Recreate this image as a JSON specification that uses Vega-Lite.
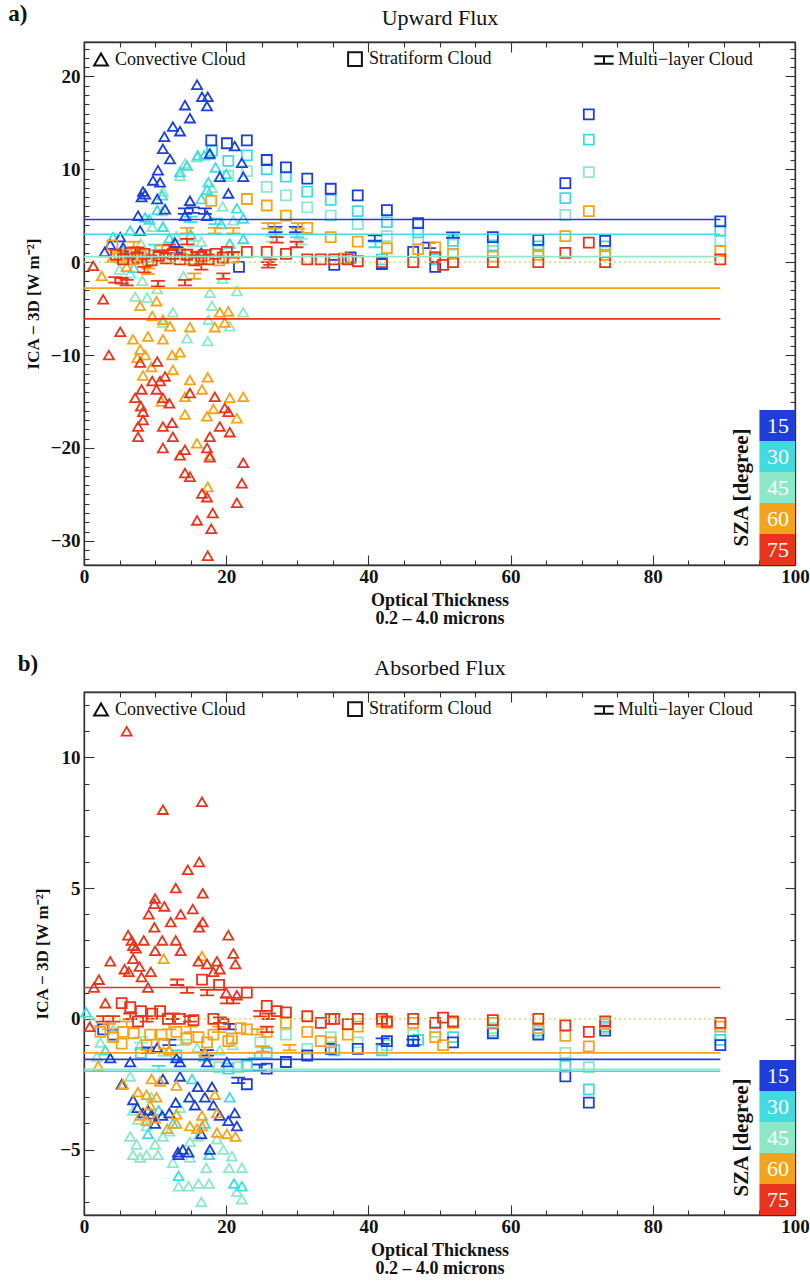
{
  "$schema": "https://vega.github.io/schema/vega-lite/v6.json",
  "background": "white",
  "padding": {"left": 7, "right": 2, "top": 2, "bottom": 2},
  "datasets": {
    "A": [
      {"s":"45","t":"C","x":14.2,"y":10.6},{"s":"45","t":"C","x":13.5,"y":9.3},{"s":"45","t":"C","x":15.9,"y":11.3},{"s":"45","t":"C","x":11.1,"y":7.6},{"s":"45","t":"C","x":11.0,"y":5.5},{"s":"45","t":"C","x":11.1,"y":3.8},{"s":"45","t":"C","x":9.6,"y":3.8},{"s":"45","t":"C","x":18.0,"y":8.0},{"s":"45","t":"C","x":19.5,"y":6.0},{"s":"45","t":"C","x":21.0,"y":4.5},{"s":"45","t":"C","x":8.0,"y":2.0},{"s":"45","t":"C","x":13.0,"y":2.8},{"s":"45","t":"C","x":16.5,"y":2.2},{"s":"45","t":"C","x":8.2,"y":-2.0},{"s":"45","t":"C","x":8.9,"y":-3.8},{"s":"45","t":"C","x":7.2,"y":-3.7},{"s":"45","t":"C","x":12.5,"y":-5.4},{"s":"45","t":"C","x":17.7,"y":-3.3},{"s":"45","t":"C","x":18.0,"y":-4.7},{"s":"45","t":"C","x":21.5,"y":-3.1},{"s":"45","t":"C","x":22.4,"y":-5.4},{"s":"45","t":"C","x":17.5,"y":-6.2},{"s":"45","t":"C","x":17.4,"y":-8.5},{"s":"45","t":"C","x":14.5,"y":-8.2},{"s":"45","t":"C","x":20.5,"y":-6.9},{"s":"45","t":"C","x":11.1,"y":-6.5},{"s":"45","t":"C","x":10.3,"y":-2.9},{"s":"45","t":"C","x":6.5,"y":-1.2},{"s":"45","t":"C","x":14.0,"y":-1.5},{"s":"45","t":"C","x":19.5,"y":-1.8},{"s":"45","t":"C","x":5.0,"y":-0.8},
      {"s":"45","t":"S","x":20.3,"y":9.3},{"s":"45","t":"S","x":25.7,"y":8.1},{"s":"45","t":"S","x":28.4,"y":7.2},{"s":"45","t":"S","x":31.4,"y":5.9},{"s":"45","t":"S","x":34.7,"y":5.0},{"s":"45","t":"S","x":38.5,"y":4.1},{"s":"45","t":"S","x":42.6,"y":2.8},{"s":"45","t":"S","x":47.0,"y":2.4},{"s":"45","t":"S","x":51.9,"y":1.9},{"s":"45","t":"S","x":57.5,"y":1.2},{"s":"45","t":"S","x":63.9,"y":1.2},{"s":"45","t":"S","x":67.7,"y":5.1},{"s":"45","t":"S","x":71.0,"y":9.7},{"s":"45","t":"S","x":73.3,"y":1.1},{"s":"45","t":"S","x":89.5,"y":2.3},{"s":"45","t":"S","x":22.9,"y":9.8},
      {"s":"45","t":"M","x":15.5,"y":2.0},{"s":"45","t":"M","x":26.5,"y":2.5},{"s":"45","t":"M","x":30.5,"y":2.2},
      {"s":"30","t":"C","x":16.0,"y":11.5},{"s":"30","t":"C","x":16.9,"y":11.5},{"s":"30","t":"C","x":17.6,"y":11.6},{"s":"30","t":"C","x":13.5,"y":9.7},{"s":"30","t":"C","x":14.5,"y":10.4},{"s":"30","t":"C","x":10.3,"y":5.6},{"s":"30","t":"C","x":11.0,"y":7.2},{"s":"30","t":"C","x":8.6,"y":4.8},{"s":"30","t":"C","x":9.2,"y":4.6},{"s":"30","t":"C","x":11.1,"y":3.8},{"s":"30","t":"C","x":22.4,"y":4.7},{"s":"30","t":"C","x":22.4,"y":2.5},{"s":"30","t":"C","x":21.5,"y":5.8},{"s":"30","t":"C","x":17.5,"y":8.6},{"s":"30","t":"C","x":17.3,"y":7.8},{"s":"30","t":"C","x":4.1,"y":2.7},{"s":"30","t":"C","x":6.5,"y":3.4},{"s":"30","t":"C","x":5.4,"y":1.3},{"s":"30","t":"C","x":12.0,"y":2.6},{"s":"30","t":"C","x":15.0,"y":3.0},{"s":"30","t":"C","x":19.3,"y":4.1},{"s":"30","t":"C","x":20.5,"y":2.0},{"s":"30","t":"C","x":9.0,"y":0.5},{"s":"30","t":"C","x":7.0,"y":-0.6},{"s":"30","t":"C","x":13.8,"y":1.2},{"s":"30","t":"C","x":18.5,"y":10.2},{"s":"30","t":"C","x":20.0,"y":9.5},{"s":"30","t":"C","x":16.5,"y":6.8},
      {"s":"30","t":"S","x":20.3,"y":10.9},{"s":"30","t":"S","x":22.9,"y":11.5},{"s":"30","t":"S","x":25.7,"y":10.0},{"s":"30","t":"S","x":28.4,"y":9.2},{"s":"30","t":"S","x":31.4,"y":7.6},{"s":"30","t":"S","x":34.7,"y":6.7},{"s":"30","t":"S","x":38.5,"y":5.5},{"s":"30","t":"S","x":42.6,"y":4.3},{"s":"30","t":"S","x":47.0,"y":3.2},{"s":"30","t":"S","x":51.9,"y":2.3},{"s":"30","t":"S","x":57.5,"y":1.8},{"s":"30","t":"S","x":63.9,"y":1.7},{"s":"30","t":"S","x":67.7,"y":6.9},{"s":"30","t":"S","x":71.0,"y":13.2},{"s":"30","t":"S","x":73.3,"y":1.7},{"s":"30","t":"S","x":89.5,"y":3.4},{"s":"30","t":"S","x":18.0,"y":12.0},{"s":"30","t":"S","x":41.9,"y":0.3},{"s":"30","t":"S","x":49.4,"y":0.3},
      {"s":"30","t":"M","x":15.0,"y":4.6},{"s":"30","t":"M","x":18.5,"y":4.4},{"s":"30","t":"M","x":27.0,"y":3.0},{"s":"30","t":"M","x":30.0,"y":3.0},{"s":"30","t":"M","x":41.0,"y":1.9},{"s":"30","t":"M","x":10.0,"y":1.6},
      {"s":"15","t":"C","x":15.9,"y":19.1},{"s":"15","t":"C","x":16.6,"y":17.8},{"s":"15","t":"C","x":17.4,"y":17.8},{"s":"15","t":"C","x":17.3,"y":16.8},{"s":"15","t":"C","x":14.2,"y":16.9},{"s":"15","t":"C","x":14.9,"y":15.5},{"s":"15","t":"C","x":12.5,"y":14.6},{"s":"15","t":"C","x":13.5,"y":14.1},{"s":"15","t":"C","x":11.3,"y":13.5},{"s":"15","t":"C","x":11.1,"y":12.2},{"s":"15","t":"C","x":12.1,"y":11.1},{"s":"15","t":"C","x":10.4,"y":9.9},{"s":"15","t":"C","x":9.7,"y":8.8},{"s":"15","t":"C","x":10.7,"y":8.6},{"s":"15","t":"C","x":8.3,"y":7.6},{"s":"15","t":"C","x":8.1,"y":7.0},{"s":"15","t":"C","x":10.3,"y":6.8},{"s":"15","t":"C","x":11.4,"y":5.7},{"s":"15","t":"C","x":7.6,"y":5.0},{"s":"15","t":"C","x":14.9,"y":6.6},{"s":"15","t":"C","x":19.1,"y":9.2},{"s":"15","t":"C","x":22.4,"y":9.2},{"s":"15","t":"C","x":22.2,"y":10.7},{"s":"15","t":"C","x":17.7,"y":11.7},{"s":"15","t":"C","x":21.2,"y":12.5},{"s":"15","t":"C","x":20.3,"y":7.4},{"s":"15","t":"C","x":3.7,"y":1.9},{"s":"15","t":"C","x":5.1,"y":2.7},{"s":"15","t":"C","x":2.9,"y":1.1},{"s":"15","t":"C","x":7.9,"y":3.4},{"s":"15","t":"C","x":17.3,"y":5.0},{"s":"15","t":"C","x":14.2,"y":5.0},{"s":"15","t":"C","x":8.6,"y":7.3},{"s":"15","t":"C","x":12.8,"y":2.1},{"s":"15","t":"C","x":16.5,"y":1.0},{"s":"15","t":"C","x":5.5,"y":1.6},
      {"s":"15","t":"S","x":17.9,"y":13.1},{"s":"15","t":"S","x":20.1,"y":12.8},{"s":"15","t":"S","x":22.9,"y":13.1},{"s":"15","t":"S","x":25.7,"y":11.0},{"s":"15","t":"S","x":28.4,"y":10.2},{"s":"15","t":"S","x":31.4,"y":9.0},{"s":"15","t":"S","x":34.7,"y":7.9},{"s":"15","t":"S","x":38.5,"y":7.2},{"s":"15","t":"S","x":42.6,"y":5.6},{"s":"15","t":"S","x":47.0,"y":4.2},{"s":"15","t":"S","x":57.5,"y":2.7},{"s":"15","t":"S","x":63.9,"y":2.4},{"s":"15","t":"S","x":67.7,"y":8.5},{"s":"15","t":"S","x":71.0,"y":15.9},{"s":"15","t":"S","x":73.3,"y":2.3},{"s":"15","t":"S","x":89.5,"y":4.4},{"s":"15","t":"S","x":49.4,"y":-0.5},{"s":"15","t":"S","x":41.9,"y":-0.2},{"s":"15","t":"S","x":46.3,"y":1.1},{"s":"15","t":"S","x":21.8,"y":-0.5},{"s":"15","t":"S","x":35.2,"y":-0.3},{"s":"15","t":"S","x":37.5,"y":0.5},
      {"s":"15","t":"M","x":14.2,"y":5.5},{"s":"15","t":"M","x":15.3,"y":5.6},{"s":"15","t":"M","x":17.0,"y":5.5},{"s":"15","t":"M","x":26.9,"y":3.5},{"s":"15","t":"M","x":29.8,"y":3.5},{"s":"15","t":"M","x":40.9,"y":2.6},{"s":"15","t":"M","x":51.9,"y":2.9},{"s":"15","t":"M","x":48.5,"y":1.8},{"s":"15","t":"M","x":13.0,"y":1.3},{"s":"15","t":"M","x":6.3,"y":0.6},
      {"s":"60","t":"C","x":7.9,"y":-4.7},{"s":"60","t":"C","x":10.2,"y":-4.2},{"s":"60","t":"C","x":9.6,"y":-5.8},{"s":"60","t":"C","x":11.1,"y":-6.2},{"s":"60","t":"C","x":12.1,"y":-6.9},{"s":"60","t":"C","x":14.9,"y":-7.0},{"s":"60","t":"C","x":19.8,"y":-6.5},{"s":"60","t":"C","x":19.1,"y":-5.4},{"s":"60","t":"C","x":20.3,"y":-5.3},{"s":"60","t":"C","x":18.4,"y":-7.0},{"s":"60","t":"C","x":6.9,"y":-8.3},{"s":"60","t":"C","x":9.0,"y":-8.0},{"s":"60","t":"C","x":11.1,"y":-8.3},{"s":"60","t":"C","x":7.9,"y":-9.4},{"s":"60","t":"C","x":8.6,"y":-10.0},{"s":"60","t":"C","x":7.5,"y":-10.3},{"s":"60","t":"C","x":12.4,"y":-10.0},{"s":"60","t":"C","x":13.5,"y":-9.7},{"s":"60","t":"C","x":12.5,"y":-11.6},{"s":"60","t":"C","x":14.9,"y":-12.7},{"s":"60","t":"C","x":17.4,"y":-12.4},{"s":"60","t":"C","x":16.6,"y":-13.7},{"s":"60","t":"C","x":14.2,"y":-14.5},{"s":"60","t":"C","x":10.9,"y":-15.0},{"s":"60","t":"C","x":20.5,"y":-14.6},{"s":"60","t":"C","x":22.4,"y":-14.5},{"s":"60","t":"C","x":18.2,"y":-15.8},{"s":"60","t":"C","x":17.3,"y":-16.6},{"s":"60","t":"C","x":21.5,"y":-16.8},{"s":"60","t":"C","x":14.2,"y":-16.4},{"s":"60","t":"C","x":15.9,"y":-19.5},{"s":"60","t":"C","x":17.4,"y":-24.2},{"s":"60","t":"C","x":17.7,"y":-20.8},{"s":"60","t":"C","x":8.3,"y":-12.2},{"s":"60","t":"C","x":9.5,"y":-11.3},{"s":"60","t":"C","x":2.5,"y":-1.5},{"s":"60","t":"C","x":4.0,"y":0.5},{"s":"60","t":"C","x":6.0,"y":-0.5},
      {"s":"60","t":"S","x":17.9,"y":6.6},{"s":"60","t":"S","x":22.9,"y":6.8},{"s":"60","t":"S","x":25.7,"y":6.1},{"s":"60","t":"S","x":28.4,"y":5.0},{"s":"60","t":"S","x":31.4,"y":3.7},{"s":"60","t":"S","x":34.7,"y":2.7},{"s":"60","t":"S","x":38.5,"y":2.2},{"s":"60","t":"S","x":42.6,"y":1.5},{"s":"60","t":"S","x":47.0,"y":1.4},{"s":"60","t":"S","x":49.4,"y":1.6},{"s":"60","t":"S","x":51.9,"y":0.9},{"s":"60","t":"S","x":57.5,"y":0.6},{"s":"60","t":"S","x":63.9,"y":0.8},{"s":"60","t":"S","x":67.7,"y":2.8},{"s":"60","t":"S","x":71.0,"y":5.5},{"s":"60","t":"S","x":73.3,"y":0.8},{"s":"60","t":"S","x":89.5,"y":1.2},{"s":"60","t":"S","x":5.0,"y":0.5},{"s":"60","t":"S","x":6.0,"y":0.8},{"s":"60","t":"S","x":7.0,"y":0.3},{"s":"60","t":"S","x":8.0,"y":0.7},{"s":"60","t":"S","x":9.0,"y":0.2},{"s":"60","t":"S","x":10.5,"y":0.6},{"s":"60","t":"S","x":12.0,"y":0.4},{"s":"60","t":"S","x":13.5,"y":0.9},{"s":"60","t":"S","x":15.0,"y":0.3},{"s":"60","t":"S","x":17.0,"y":0.7},{"s":"60","t":"S","x":19.0,"y":0.2},{"s":"60","t":"S","x":21.0,"y":0.5},{"s":"60","t":"S","x":4.0,"y":1.8},{"s":"60","t":"S","x":36.5,"y":0.4},
      {"s":"60","t":"M","x":14.5,"y":3.4},{"s":"60","t":"M","x":18.4,"y":3.4},{"s":"60","t":"M","x":21.0,"y":3.4},{"s":"60","t":"M","x":25.9,"y":3.9},{"s":"60","t":"M","x":26.8,"y":3.9},{"s":"60","t":"M","x":30.1,"y":3.9},{"s":"60","t":"M","x":11.0,"y":1.5},{"s":"60","t":"M","x":7.0,"y":1.9},{"s":"60","t":"M","x":9.0,"y":-1.0},{"s":"60","t":"M","x":15.5,"y":-1.5},
      {"s":"75","t":"C","x":1.3,"y":-0.4},{"s":"75","t":"C","x":2.7,"y":-4.0},{"s":"75","t":"C","x":5.1,"y":-7.5},{"s":"75","t":"C","x":3.5,"y":-10.0},{"s":"75","t":"C","x":7.9,"y":-10.8},{"s":"75","t":"C","x":10.3,"y":-10.7},{"s":"75","t":"C","x":11.4,"y":-12.3},{"s":"75","t":"C","x":9.6,"y":-12.8},{"s":"75","t":"C","x":10.7,"y":-12.8},{"s":"75","t":"C","x":8.1,"y":-13.7},{"s":"75","t":"C","x":10.2,"y":-13.7},{"s":"75","t":"C","x":7.2,"y":-14.6},{"s":"75","t":"C","x":11.1,"y":-14.6},{"s":"75","t":"C","x":14.9,"y":-14.1},{"s":"75","t":"C","x":18.4,"y":-14.5},{"s":"75","t":"C","x":19.8,"y":-15.7},{"s":"75","t":"C","x":20.3,"y":-16.1},{"s":"75","t":"C","x":8.3,"y":-16.1},{"s":"75","t":"C","x":8.3,"y":-17.0},{"s":"75","t":"C","x":7.6,"y":-17.7},{"s":"75","t":"C","x":11.1,"y":-17.7},{"s":"75","t":"C","x":12.4,"y":-17.3},{"s":"75","t":"C","x":12.5,"y":-18.8},{"s":"75","t":"C","x":7.6,"y":-18.8},{"s":"75","t":"C","x":17.7,"y":-18.8},{"s":"75","t":"C","x":19.1,"y":-17.7},{"s":"75","t":"C","x":20.5,"y":-18.3},{"s":"75","t":"C","x":11.1,"y":-20.0},{"s":"75","t":"C","x":13.5,"y":-20.8},{"s":"75","t":"C","x":14.2,"y":-20.2},{"s":"75","t":"C","x":17.3,"y":-20.0},{"s":"75","t":"C","x":17.7,"y":-21.0},{"s":"75","t":"C","x":22.4,"y":-21.6},{"s":"75","t":"C","x":14.2,"y":-22.7},{"s":"75","t":"C","x":14.9,"y":-23.1},{"s":"75","t":"C","x":22.2,"y":-23.8},{"s":"75","t":"C","x":16.6,"y":-24.9},{"s":"75","t":"C","x":17.3,"y":-25.3},{"s":"75","t":"C","x":21.5,"y":-25.9},{"s":"75","t":"C","x":18.1,"y":-27.0},{"s":"75","t":"C","x":15.9,"y":-27.8},{"s":"75","t":"C","x":17.9,"y":-28.7},{"s":"75","t":"C","x":17.4,"y":-31.6},{"s":"75","t":"C","x":8.0,"y":-15.5},{"s":"75","t":"C","x":12.0,"y":-15.2},
      {"s":"75","t":"S","x":4.5,"y":0.8},{"s":"75","t":"S","x":5.5,"y":0.3},{"s":"75","t":"S","x":6.5,"y":1.0},{"s":"75","t":"S","x":7.5,"y":0.5},{"s":"75","t":"S","x":8.5,"y":0.9},{"s":"75","t":"S","x":9.5,"y":0.2},{"s":"75","t":"S","x":10.5,"y":0.7},{"s":"75","t":"S","x":11.5,"y":0.4},{"s":"75","t":"S","x":12.5,"y":0.9},{"s":"75","t":"S","x":13.5,"y":0.3},{"s":"75","t":"S","x":14.5,"y":0.8},{"s":"75","t":"S","x":15.5,"y":0.2},{"s":"75","t":"S","x":16.5,"y":0.6},{"s":"75","t":"S","x":17.5,"y":0.3},{"s":"75","t":"S","x":18.5,"y":0.9},{"s":"75","t":"S","x":19.5,"y":0.5},{"s":"75","t":"S","x":20.1,"y":1.1},{"s":"75","t":"S","x":22.9,"y":1.1},{"s":"75","t":"S","x":25.7,"y":1.1},{"s":"75","t":"S","x":28.4,"y":0.9},{"s":"75","t":"S","x":31.4,"y":0.3},{"s":"75","t":"S","x":33.3,"y":0.3},{"s":"75","t":"S","x":35.2,"y":0.3},{"s":"75","t":"S","x":37.1,"y":0.3},{"s":"75","t":"S","x":38.5,"y":0.1},{"s":"75","t":"S","x":41.9,"y":0.0},{"s":"75","t":"S","x":46.3,"y":0.0},{"s":"75","t":"S","x":49.4,"y":0.5},{"s":"75","t":"S","x":50.5,"y":-0.3},{"s":"75","t":"S","x":51.9,"y":0.0},{"s":"75","t":"S","x":57.5,"y":0.0},{"s":"75","t":"S","x":63.9,"y":0.0},{"s":"75","t":"S","x":67.7,"y":1.0},{"s":"75","t":"S","x":71.0,"y":2.1},{"s":"75","t":"S","x":73.3,"y":0.0},{"s":"75","t":"S","x":89.5,"y":0.3},
      {"s":"75","t":"M","x":4.4,"y":-1.9},{"s":"75","t":"M","x":5.3,"y":-2.0},{"s":"75","t":"M","x":6.0,"y":-2.2},{"s":"75","t":"M","x":10.4,"y":-2.3},{"s":"75","t":"M","x":14.2,"y":-2.2},{"s":"75","t":"M","x":19.6,"y":-1.5},{"s":"75","t":"M","x":26.2,"y":0.0},{"s":"75","t":"M","x":15.9,"y":0.8},{"s":"75","t":"M","x":14.5,"y":2.2},{"s":"75","t":"M","x":10.7,"y":0.8},{"s":"75","t":"M","x":27.1,"y":2.4},{"s":"75","t":"M","x":29.9,"y":1.9},{"s":"75","t":"M","x":25.9,"y":-0.3},{"s":"75","t":"M","x":7.5,"y":1.3},{"s":"75","t":"M","x":12.0,"y":1.6},{"s":"75","t":"M","x":17.0,"y":1.0},{"s":"75","t":"M","x":21.0,"y":0.8},{"s":"75","t":"M","x":8.5,"y":-0.8},{"s":"75","t":"M","x":16.5,"y":-0.5}
    ],
    "B": [
      {"s":"45","t":"C","x":1.3,"y":-0.1},{"s":"45","t":"C","x":2.3,"y":-0.9},{"s":"45","t":"C","x":1.8,"y":-1.45},{"s":"45","t":"C","x":4.1,"y":-0.4},{"s":"45","t":"C","x":7.9,"y":-1.0},{"s":"45","t":"C","x":11.2,"y":-1.25},{"s":"45","t":"C","x":15.9,"y":-1.1},{"s":"45","t":"C","x":19.1,"y":-1.2},{"s":"45","t":"C","x":20.9,"y":-1.0},{"s":"45","t":"C","x":6.5,"y":-2.2},{"s":"45","t":"C","x":6.9,"y":-3.5},{"s":"45","t":"C","x":7.6,"y":-3.85},{"s":"45","t":"C","x":8.8,"y":-4.1},{"s":"45","t":"C","x":6.5,"y":-4.5},{"s":"45","t":"C","x":7.4,"y":-4.8},{"s":"45","t":"C","x":11.1,"y":-4.5},{"s":"45","t":"C","x":14.9,"y":-4.7},{"s":"45","t":"C","x":18.7,"y":-4.6},{"s":"45","t":"C","x":19.6,"y":-5.0},{"s":"45","t":"C","x":6.9,"y":-5.2},{"s":"45","t":"C","x":8.8,"y":-5.2},{"s":"45","t":"C","x":14.9,"y":-5.3},{"s":"45","t":"C","x":20.8,"y":-5.25},{"s":"45","t":"C","x":7.9,"y":-5.3},{"s":"45","t":"C","x":10.4,"y":-5.2},{"s":"45","t":"C","x":12.5,"y":-5.5},{"s":"45","t":"C","x":14.7,"y":-6.4},{"s":"45","t":"C","x":13.3,"y":-6.4},{"s":"45","t":"C","x":16.1,"y":-6.3},{"s":"45","t":"C","x":17.2,"y":-5.7},{"s":"45","t":"C","x":17.6,"y":-6.3},{"s":"45","t":"C","x":20.4,"y":-5.7},{"s":"45","t":"C","x":22.2,"y":-5.7},{"s":"45","t":"C","x":21.5,"y":-6.6},{"s":"45","t":"C","x":22.2,"y":-6.9},{"s":"45","t":"C","x":16.5,"y":-7.0},{"s":"45","t":"C","x":12.0,"y":-4.3},{"s":"45","t":"C","x":16.0,"y":-4.5},{"s":"45","t":"C","x":10.0,"y":-4.8},{"s":"45","t":"C","x":9.5,"y":-3.0},{"s":"45","t":"C","x":13.5,"y":-3.4},
      {"s":"45","t":"S","x":24.8,"y":-0.9},{"s":"45","t":"S","x":21.7,"y":-1.85},{"s":"45","t":"S","x":19.0,"y":-1.85},{"s":"45","t":"S","x":31.4,"y":-1.15},{"s":"45","t":"S","x":38.5,"y":-0.9},{"s":"45","t":"S","x":42.6,"y":-1.0},{"s":"45","t":"S","x":46.3,"y":-0.6},{"s":"45","t":"S","x":67.7,"y":-1.3},{"s":"45","t":"S","x":71.0,"y":-1.85},{"s":"45","t":"S","x":89.5,"y":-0.6},{"s":"45","t":"S","x":73.3,"y":-0.35},{"s":"45","t":"S","x":63.9,"y":-0.55},{"s":"45","t":"S","x":57.5,"y":-0.35},{"s":"45","t":"S","x":49.4,"y":-0.5},{"s":"45","t":"S","x":28.4,"y":-0.6},{"s":"45","t":"S","x":34.7,"y":-0.7},
      {"s":"45","t":"M","x":8.0,"y":-0.8},{"s":"45","t":"M","x":14.0,"y":-0.9},
      {"s":"30","t":"C","x":0.3,"y":0.25},{"s":"30","t":"C","x":15.2,"y":-2.3},{"s":"30","t":"C","x":13.3,"y":-6.0},{"s":"30","t":"C","x":21.1,"y":-6.3},{"s":"30","t":"C","x":22.2,"y":-6.4},{"s":"30","t":"C","x":17.6,"y":-5.2},{"s":"30","t":"C","x":9.0,"y":-4.4},{"s":"30","t":"C","x":12.5,"y":-4.0},{"s":"30","t":"C","x":17.0,"y":-4.0},{"s":"30","t":"C","x":20.5,"y":-3.0},{"s":"30","t":"C","x":3.0,"y":-1.2},{"s":"30","t":"C","x":10.5,"y":-3.5},
      {"s":"30","t":"S","x":67.7,"y":-1.8},{"s":"30","t":"S","x":71.0,"y":-2.7},{"s":"30","t":"S","x":22.9,"y":-1.8},{"s":"30","t":"S","x":20.3,"y":-1.9},{"s":"30","t":"S","x":25.7,"y":-1.3},{"s":"30","t":"S","x":35.2,"y":-1.2},{"s":"30","t":"S","x":41.9,"y":-1.2},{"s":"30","t":"S","x":47.0,"y":-0.8},{"s":"30","t":"S","x":51.9,"y":-0.7},{"s":"30","t":"S","x":89.5,"y":-0.8},{"s":"30","t":"S","x":73.3,"y":-0.3},{"s":"30","t":"S","x":63.9,"y":-0.45},{"s":"30","t":"S","x":57.5,"y":-0.45},{"s":"30","t":"S","x":8.0,"y":-1.3},{"s":"30","t":"S","x":13.0,"y":-1.4},
      {"s":"30","t":"M","x":17.0,"y":-1.5},{"s":"30","t":"M","x":24.0,"y":-1.4},{"s":"30","t":"M","x":10.5,"y":-1.9},
      {"s":"15","t":"C","x":3.7,"y":-1.5},{"s":"15","t":"C","x":6.5,"y":-1.65},{"s":"15","t":"C","x":5.3,"y":-2.5},{"s":"15","t":"C","x":6.9,"y":-3.1},{"s":"15","t":"C","x":8.3,"y":-3.6},{"s":"15","t":"C","x":9.0,"y":-3.5},{"s":"15","t":"C","x":9.5,"y":-3.65},{"s":"15","t":"C","x":11.1,"y":-2.3},{"s":"15","t":"C","x":13.5,"y":-2.2},{"s":"15","t":"C","x":16.0,"y":-2.6},{"s":"15","t":"C","x":18.0,"y":-2.6},{"s":"15","t":"C","x":14.8,"y":-3.0},{"s":"15","t":"C","x":17.0,"y":-3.0},{"s":"15","t":"C","x":12.9,"y":-3.2},{"s":"15","t":"C","x":15.6,"y":-3.3},{"s":"15","t":"C","x":18.2,"y":-3.3},{"s":"15","t":"C","x":19.1,"y":-3.7},{"s":"15","t":"C","x":21.2,"y":-3.6},{"s":"15","t":"C","x":20.3,"y":-3.9},{"s":"15","t":"C","x":21.5,"y":-4.1},{"s":"15","t":"C","x":11.0,"y":-3.7},{"s":"15","t":"C","x":12.0,"y":-3.6},{"s":"15","t":"C","x":13.2,"y":-5.1},{"s":"15","t":"C","x":13.9,"y":-5.0},{"s":"15","t":"C","x":17.7,"y":-5.0},{"s":"15","t":"C","x":13.3,"y":-5.2},{"s":"15","t":"C","x":14.7,"y":-5.1},{"s":"15","t":"C","x":10.3,"y":-1.1},{"s":"15","t":"C","x":13.0,"y":-1.5},{"s":"15","t":"C","x":13.5,"y":-1.65},{"s":"15","t":"C","x":17.3,"y":-1.65},{"s":"15","t":"C","x":20.1,"y":-1.65},{"s":"15","t":"C","x":7.5,"y":-3.4},{"s":"15","t":"C","x":10.0,"y":-4.0},{"s":"15","t":"C","x":16.5,"y":-4.4},
      {"s":"15","t":"S","x":89.5,"y":-1.0},{"s":"15","t":"S","x":67.7,"y":-2.2},{"s":"15","t":"S","x":71.0,"y":-3.2},{"s":"15","t":"S","x":73.3,"y":-0.45},{"s":"15","t":"S","x":57.5,"y":-0.55},{"s":"15","t":"S","x":46.3,"y":-0.85},{"s":"15","t":"S","x":38.5,"y":-1.15},{"s":"15","t":"S","x":34.7,"y":-1.15},{"s":"15","t":"S","x":31.4,"y":-1.4},{"s":"15","t":"S","x":28.4,"y":-1.65},{"s":"15","t":"S","x":25.7,"y":-1.9},{"s":"15","t":"S","x":22.9,"y":-2.5},{"s":"15","t":"S","x":2.7,"y":-0.4},{"s":"15","t":"S","x":4.1,"y":-0.6},{"s":"15","t":"S","x":42.6,"y":-0.85},{"s":"15","t":"S","x":51.9,"y":-0.9},{"s":"15","t":"S","x":63.9,"y":-0.6},
      {"s":"15","t":"M","x":24.7,"y":-1.85},{"s":"15","t":"M","x":42.0,"y":-0.85},{"s":"15","t":"M","x":46.3,"y":-0.9},{"s":"15","t":"M","x":17.3,"y":-1.3},{"s":"15","t":"M","x":21.7,"y":-2.35},{"s":"15","t":"M","x":20.5,"y":-0.3},{"s":"15","t":"M","x":9.0,"y":-1.2},{"s":"15","t":"M","x":12.0,"y":-0.9},
      {"s":"60","t":"C","x":9.5,"y":-2.3},{"s":"60","t":"C","x":13.0,"y":-2.55},{"s":"60","t":"C","x":7.6,"y":-2.8},{"s":"60","t":"C","x":8.8,"y":-2.9},{"s":"60","t":"C","x":10.2,"y":-3.0},{"s":"60","t":"C","x":9.3,"y":-3.3},{"s":"60","t":"C","x":7.9,"y":-3.7},{"s":"60","t":"C","x":10.0,"y":-3.8},{"s":"60","t":"C","x":13.0,"y":-3.65},{"s":"60","t":"C","x":13.0,"y":-4.0},{"s":"60","t":"C","x":14.9,"y":-4.1},{"s":"60","t":"C","x":16.6,"y":-3.7},{"s":"60","t":"C","x":16.6,"y":-4.1},{"s":"60","t":"C","x":18.4,"y":-2.9},{"s":"60","t":"C","x":18.7,"y":-3.6},{"s":"60","t":"C","x":11.7,"y":-4.2},{"s":"60","t":"C","x":20.1,"y":-4.4},{"s":"60","t":"C","x":21.3,"y":-4.5},{"s":"60","t":"C","x":18.7,"y":-4.35},{"s":"60","t":"C","x":15.9,"y":-4.2},{"s":"60","t":"C","x":8.8,"y":-3.9},{"s":"60","t":"C","x":2.0,"y":-1.8},{"s":"60","t":"C","x":11.2,"y":2.3},{"s":"60","t":"C","x":16.6,"y":2.4},{"s":"60","t":"C","x":10.7,"y":-2.4},{"s":"60","t":"C","x":5.5,"y":-2.5},{"s":"60","t":"C","x":12.0,"y":-1.2},{"s":"60","t":"C","x":17.0,"y":-1.3},
      {"s":"60","t":"S","x":5.5,"y":-0.5},{"s":"60","t":"S","x":7.0,"y":-0.55},{"s":"60","t":"S","x":9.3,"y":-0.6},{"s":"60","t":"S","x":10.9,"y":-0.6},{"s":"60","t":"S","x":13.0,"y":-0.5},{"s":"60","t":"S","x":14.4,"y":-0.75},{"s":"60","t":"S","x":16.1,"y":-0.7},{"s":"60","t":"S","x":18.2,"y":-0.6},{"s":"60","t":"S","x":20.8,"y":-0.75},{"s":"60","t":"S","x":22.0,"y":-0.35},{"s":"60","t":"S","x":4.1,"y":-0.7},{"s":"60","t":"S","x":8.8,"y":-1.0},{"s":"60","t":"S","x":11.2,"y":-0.95},{"s":"60","t":"S","x":17.3,"y":-0.9},{"s":"60","t":"S","x":2.3,"y":-0.5},{"s":"60","t":"S","x":5.3,"y":-0.95},{"s":"60","t":"S","x":28.4,"y":-0.15},{"s":"60","t":"S","x":25.7,"y":-0.5},{"s":"60","t":"S","x":22.9,"y":-0.4},{"s":"60","t":"S","x":20.3,"y":-0.85},{"s":"60","t":"S","x":33.3,"y":-0.85},{"s":"60","t":"S","x":34.7,"y":-0.9},{"s":"60","t":"S","x":37.1,"y":-0.6},{"s":"60","t":"S","x":38.5,"y":-0.3},{"s":"60","t":"S","x":31.4,"y":-0.5},{"s":"60","t":"S","x":46.3,"y":-0.15},{"s":"60","t":"S","x":49.4,"y":-0.7},{"s":"60","t":"S","x":50.5,"y":-1.0},{"s":"60","t":"S","x":51.9,"y":-0.15},{"s":"60","t":"S","x":63.9,"y":-0.35},{"s":"60","t":"S","x":67.7,"y":-0.65},{"s":"60","t":"S","x":71.0,"y":-1.05},{"s":"60","t":"S","x":89.5,"y":-0.3},{"s":"60","t":"S","x":57.5,"y":-0.15},{"s":"60","t":"S","x":42.6,"y":-0.15},{"s":"60","t":"S","x":41.9,"y":-0.1},{"s":"60","t":"S","x":73.3,"y":-0.2},
      {"s":"60","t":"M","x":24.4,"y":-0.5},{"s":"60","t":"M","x":25.2,"y":-1.15},{"s":"60","t":"M","x":28.9,"y":-1.1},{"s":"60","t":"M","x":3.5,"y":-0.3},{"s":"60","t":"M","x":6.0,"y":-0.2},{"s":"60","t":"M","x":12.0,"y":-0.3},{"s":"60","t":"M","x":15.0,"y":-0.4},{"s":"60","t":"M","x":19.0,"y":-0.4},
      {"s":"75","t":"C","x":6.0,"y":11.0},{"s":"75","t":"C","x":11.1,"y":8.0},{"s":"75","t":"C","x":16.6,"y":8.3},{"s":"75","t":"C","x":16.2,"y":6.0},{"s":"75","t":"C","x":14.6,"y":5.7},{"s":"75","t":"C","x":12.9,"y":5.0},{"s":"75","t":"C","x":16.7,"y":4.8},{"s":"75","t":"C","x":10.0,"y":4.6},{"s":"75","t":"C","x":9.9,"y":4.4},{"s":"75","t":"C","x":11.3,"y":4.3},{"s":"75","t":"C","x":9.1,"y":4.0},{"s":"75","t":"C","x":13.6,"y":4.0},{"s":"75","t":"C","x":15.3,"y":4.2},{"s":"75","t":"C","x":12.2,"y":3.7},{"s":"75","t":"C","x":9.9,"y":3.5},{"s":"75","t":"C","x":16.7,"y":3.7},{"s":"75","t":"C","x":16.2,"y":3.5},{"s":"75","t":"C","x":20.3,"y":3.2},{"s":"75","t":"C","x":6.2,"y":3.2},{"s":"75","t":"C","x":6.7,"y":3.0},{"s":"75","t":"C","x":8.4,"y":3.0},{"s":"75","t":"C","x":11.0,"y":3.0},{"s":"75","t":"C","x":12.9,"y":3.0},{"s":"75","t":"C","x":6.9,"y":2.8},{"s":"75","t":"C","x":7.3,"y":2.7},{"s":"75","t":"C","x":10.0,"y":2.6},{"s":"75","t":"C","x":13.6,"y":2.6},{"s":"75","t":"C","x":21.0,"y":2.5},{"s":"75","t":"C","x":6.9,"y":2.3},{"s":"75","t":"C","x":3.7,"y":2.2},{"s":"75","t":"C","x":16.1,"y":2.2},{"s":"75","t":"C","x":18.7,"y":2.2},{"s":"75","t":"C","x":21.3,"y":2.1},{"s":"75","t":"C","x":5.7,"y":1.9},{"s":"75","t":"C","x":7.8,"y":2.0},{"s":"75","t":"C","x":17.3,"y":2.1},{"s":"75","t":"C","x":6.3,"y":1.8},{"s":"75","t":"C","x":9.4,"y":1.8},{"s":"75","t":"C","x":19.1,"y":1.9},{"s":"75","t":"C","x":18.2,"y":1.8},{"s":"75","t":"C","x":8.1,"y":1.6},{"s":"75","t":"C","x":2.1,"y":1.5},{"s":"75","t":"C","x":1.4,"y":1.2},{"s":"75","t":"C","x":9.0,"y":1.2},{"s":"75","t":"C","x":21.5,"y":0.9},{"s":"75","t":"C","x":3.0,"y":0.6},{"s":"75","t":"C","x":20.0,"y":1.0},{"s":"75","t":"C","x":0.8,"y":-0.3},
      {"s":"75","t":"S","x":16.6,"y":1.5},{"s":"75","t":"S","x":19.0,"y":1.3},{"s":"75","t":"S","x":22.9,"y":1.0},{"s":"75","t":"S","x":25.7,"y":0.5},{"s":"75","t":"S","x":27.1,"y":0.3},{"s":"75","t":"S","x":5.3,"y":0.6},{"s":"75","t":"S","x":6.5,"y":0.45},{"s":"75","t":"S","x":8.0,"y":0.3},{"s":"75","t":"S","x":9.6,"y":0.2},{"s":"75","t":"S","x":10.7,"y":0.3},{"s":"75","t":"S","x":7.6,"y":-0.1},{"s":"75","t":"S","x":11.8,"y":0.0},{"s":"75","t":"S","x":13.5,"y":0.0},{"s":"75","t":"S","x":15.4,"y":-0.05},{"s":"75","t":"S","x":18.2,"y":0.0},{"s":"75","t":"S","x":19.6,"y":-0.2},{"s":"75","t":"S","x":31.4,"y":0.1},{"s":"75","t":"S","x":33.3,"y":-0.15},{"s":"75","t":"S","x":34.7,"y":0.0},{"s":"75","t":"S","x":35.2,"y":0.0},{"s":"75","t":"S","x":37.1,"y":-0.2},{"s":"75","t":"S","x":38.5,"y":0.0},{"s":"75","t":"S","x":41.9,"y":0.0},{"s":"75","t":"S","x":42.6,"y":-0.1},{"s":"75","t":"S","x":46.3,"y":0.0},{"s":"75","t":"S","x":49.4,"y":-0.15},{"s":"75","t":"S","x":50.5,"y":0.05},{"s":"75","t":"S","x":51.9,"y":-0.1},{"s":"75","t":"S","x":57.5,"y":-0.05},{"s":"75","t":"S","x":63.9,"y":0.0},{"s":"75","t":"S","x":67.7,"y":-0.25},{"s":"75","t":"S","x":71.0,"y":-0.5},{"s":"75","t":"S","x":73.3,"y":-0.1},{"s":"75","t":"S","x":89.5,"y":-0.15},{"s":"75","t":"S","x":28.4,"y":0.25},
      {"s":"75","t":"M","x":13.1,"y":1.4},{"s":"75","t":"M","x":14.5,"y":1.1},{"s":"75","t":"M","x":17.3,"y":1.0},{"s":"75","t":"M","x":20.1,"y":0.7},{"s":"75","t":"M","x":24.8,"y":0.2},{"s":"75","t":"M","x":25.7,"y":-0.4},{"s":"75","t":"M","x":2.7,"y":0.0},{"s":"75","t":"M","x":4.1,"y":0.0},{"s":"75","t":"M","x":6.5,"y":0.1},{"s":"75","t":"M","x":8.8,"y":0.0},{"s":"75","t":"M","x":12.5,"y":0.1},{"s":"75","t":"M","x":14.9,"y":0.0},{"s":"75","t":"M","x":19.1,"y":-0.05},{"s":"75","t":"M","x":21.0,"y":0.7},{"s":"75","t":"M","x":26.0,"y":0.1}
    ],
    "mA": [{"s":"15","m":4.6},{"s":"30","m":3.0},{"s":"45","m":0.6},{"s":"60","m":-2.8},{"s":"75","m":-6.1}],
    "mB": [{"s":"15","m":-1.55},{"s":"30","m":-2.0},{"s":"45","m":-1.93},{"s":"60","m":-1.3},{"s":"75","m":1.2}],
    "z": [{"s":"15"},{"s":"30"},{"s":"45"},{"s":"60"},{"s":"75"}],
    "one": [{"label":"SZA [degree]"}]
  },
  "spacing": 24,
  "resolve": {"scale": {"shape": "independent"}, "legend": {"shape": "independent"}},
  "vconcat": [
    {
      "title": {"text": "a)", "anchor": "start", "frame": "bounds", "fontSize": 23, "fontWeight": "bold", "dy": 20, "dx": -16, "offset": 0},
      "width": 711, "height": 523,
      "resolve": {"scale": {"y": "independent"}},
      "layer": [
        {
          "layer": [
            {
              "data": {"name": "A"},
              "mark": {"type": "point", "filled": false, "strokeWidth": 1.8, "opacity": 1, "size": 100},
              "encoding": {
                "x": {"field": "x", "type": "quantitative", "scale": {"domain": [0, 100], "nice": false, "zero": false},
                  "axis": {"orient": "bottom", "values": [0,5,10,15,20,25,30,35,40,45,50,55,60,65,70,75,80,85,90,95,100], "labelExpr": "datum.value % 20 === 0 ? datum.label : ''", "tickSize": {"condition": {"test": "datum.value % 20 === 0", "value": -10}, "value": -5}, "labelPadding": 12, "labelFontSize": 19, "labelFontWeight": "bold", "labelOverlap": false, "labelFlush": false, "title": ["Optical Thickness", "0.2 – 4.0 microns"], "titleFontSize": 18, "titleFontWeight": "bold", "titlePadding": 0, "titleLineHeight": 18}},
                "y": {"field": "y", "type": "quantitative", "scale": {"domain": [-32.6, 23.7], "nice": false, "zero": false},
                  "axis": {"orient": "left", "values": [-32,-31,-30,-29,-28,-27,-26,-25,-24,-23,-22,-21,-20,-19,-18,-17,-16,-15,-14,-13,-12,-11,-10,-9,-8,-7,-6,-5,-4,-3,-2,-1,0,1,2,3,4,5,6,7,8,9,10,11,12,13,14,15,16,17,18,19,20,21,22,23], "labelExpr": "datum.value % 10 === 0 ? datum.label : ''", "tickSize": {"condition": {"test": "datum.value % 10 === 0", "value": -10}, "value": -5}, "labelPadding": 14, "labelFontSize": 19, "labelFontWeight": "bold", "labelOverlap": false, "title": "ICA − 3D  [W m⁻²]", "titleFontSize": 17, "titleFontWeight": "bold", "titlePadding": 8}},
                "color": {"field": "s", "type": "nominal", "scale": {"domain": ["15","30","45","60","75"], "range": ["#1d3fd8","#3fdbe0","#8ee8c8","#f4a41c","#e8341c"]}, "legend": null},
                "shape": {"field": "t", "type": "nominal", "scale": {"domain": ["C","S","M"], "range": ["triangle-up","square","M-1.4,-0.55L1.4,-0.55M0,-0.55L0,0.55M-1.4,0.55L1.4,0.55"]},
                  "legend": {"orient": "none", "legendX": 8, "legendY": 8, "direction": "horizontal", "title": null, "labelExpr": "datum.label == 'C' ? 'Convective Cloud' : datum.label == 'S' ? 'Stratiform Cloud' : 'Multi−layer Cloud'", "labelFontSize": 18, "labelColor": "#111", "symbolSize": 190, "symbolStrokeWidth": 2, "symbolStrokeColor": "#111", "symbolFillColor": "transparent", "labelOffset": 5, "columnPadding": 98}}
              }
            },
            {
              "data": {"name": "one"},
              "mark": {"type": "rule", "strokeDash": [2, 3], "color": "#b8dc6a", "strokeWidth": 1.2},
              "encoding": {
                "x": {"datum": 0, "type": "quantitative", "axis": null},
                "x2": {"datum": 89.5},
                "y": {"datum": 0, "type": "quantitative", "axis": null}
              }
            },
            {
              "data": {"name": "mA"},
              "mark": {"type": "rule", "strokeWidth": 1.6},
              "encoding": {
                "x": {"datum": 0, "type": "quantitative",
                  "axis": {"orient": "top", "values": [0,5,10,15,20,25,30,35,40,45,50,55,60,65,70,75,80,85,90,95,100], "labels": false, "tickSize": {"condition": {"test": "datum.value % 20 === 0", "value": -10}, "value": -5}, "title": "Upward Flux", "titleFontSize": 22, "titleFontWeight": "normal", "titlePadding": 12}},
                "x2": {"datum": 89.5},
                "y": {"field": "m", "type": "quantitative", "scale": {"domain": [-32.6, 23.7], "nice": false, "zero": false},
                  "axis": {"orient": "right", "values": [-32,-31,-30,-29,-28,-27,-26,-25,-24,-23,-22,-21,-20,-19,-18,-17,-16,-15,-14,-13,-12,-11,-10,-9,-8,-7,-6,-5,-4,-3,-2,-1,0,1,2,3,4,5,6,7,8,9,10,11,12,13,14,15,16,17,18,19,20,21,22,23], "labels": false, "tickSize": {"condition": {"test": "datum.value % 10 === 0", "value": -10}, "value": -5}, "title": null}},
                "color": {"field": "s", "type": "nominal", "legend": null}
              }
            }
          ]
        },
        {
          "layer": [
            {
              "data": {"name": "z"},
              "mark": {"type": "rect"},
              "encoding": {
                "x": {"datum": 95, "type": "quantitative", "axis": null},
                "x2": {"datum": 100},
                "y": {"field": "s", "type": "ordinal", "scale": {"domain": ["15","30","45","60","75"], "range": [368, 523], "paddingInner": 0, "paddingOuter": 0}, "axis": null},
                "color": {"field": "s", "type": "nominal", "legend": null}
              }
            },
            {
              "data": {"name": "z"},
              "mark": {"type": "text", "color": "white", "fontSize": 22, "font": "Liberation Serif"},
              "encoding": {
                "x": {"datum": 97.6, "type": "quantitative", "axis": null},
                "y": {"field": "s", "type": "ordinal", "axis": null},
                "text": {"field": "s"}
              }
            },
            {
              "data": {"name": "one"},
              "mark": {"type": "text", "angle": 270, "color": "#111", "fontSize": 21, "fontWeight": "bold", "font": "Liberation Serif"},
              "encoding": {
                "x": {"datum": 92.6, "type": "quantitative", "axis": null},
                "y": {"datum": "45", "type": "ordinal", "axis": null},
                "text": {"field": "label"}
              }
            }
          ]
        }
      ]
    },
    {
      "title": {"text": "b)", "anchor": "start", "frame": "bounds", "fontSize": 23, "fontWeight": "bold", "dy": 20, "dx": -16, "offset": 0},
      "width": 711, "height": 523,
      "resolve": {"scale": {"y": "independent"}},
      "layer": [
        {
          "layer": [
            {
              "data": {"name": "B"},
              "mark": {"type": "point", "filled": false, "strokeWidth": 1.8, "opacity": 1, "size": 100},
              "encoding": {
                "x": {"field": "x", "type": "quantitative", "scale": {"domain": [0, 100], "nice": false, "zero": false},
                  "axis": {"orient": "bottom", "values": [0,5,10,15,20,25,30,35,40,45,50,55,60,65,70,75,80,85,90,95,100], "labelExpr": "datum.value % 20 === 0 ? datum.label : ''", "tickSize": {"condition": {"test": "datum.value % 20 === 0", "value": -10}, "value": -5}, "labelPadding": 12, "labelFontSize": 19, "labelFontWeight": "bold", "labelOverlap": false, "labelFlush": false, "title": ["Optical Thickness", "0.2 – 4.0 microns"], "titleFontSize": 18, "titleFontWeight": "bold", "titlePadding": 0, "titleLineHeight": 18}},
                "y": {"field": "y", "type": "quantitative", "scale": {"domain": [-7.5, 12.5], "nice": false, "zero": false},
                  "axis": {"orient": "left", "values": [-7,-6,-5,-4,-3,-2,-1,0,1,2,3,4,5,6,7,8,9,10,11,12], "labelExpr": "datum.value % 5 === 0 ? datum.label : ''", "tickSize": {"condition": {"test": "datum.value % 5 === 0", "value": -10}, "value": -5}, "labelPadding": 14, "labelFontSize": 19, "labelFontWeight": "bold", "labelOverlap": false, "title": "ICA − 3D  [W m⁻²]", "titleFontSize": 17, "titleFontWeight": "bold", "titlePadding": 8}},
                "color": {"field": "s", "type": "nominal", "scale": {"domain": ["15","30","45","60","75"], "range": ["#1d3fd8","#3fdbe0","#8ee8c8","#f4a41c","#e8341c"]}, "legend": null},
                "shape": {"field": "t", "type": "nominal", "scale": {"domain": ["C","S","M"], "range": ["triangle-up","square","M-1.4,-0.55L1.4,-0.55M0,-0.55L0,0.55M-1.4,0.55L1.4,0.55"]},
                  "legend": {"orient": "none", "legendX": 8, "legendY": 8, "direction": "horizontal", "title": null, "labelExpr": "datum.label == 'C' ? 'Convective Cloud' : datum.label == 'S' ? 'Stratiform Cloud' : 'Multi−layer Cloud'", "labelFontSize": 18, "labelColor": "#111", "symbolSize": 190, "symbolStrokeWidth": 2, "symbolStrokeColor": "#111", "symbolFillColor": "transparent", "labelOffset": 5, "columnPadding": 98}}
              }
            },
            {
              "data": {"name": "one"},
              "mark": {"type": "rule", "strokeDash": [2, 3], "color": "#b8dc6a", "strokeWidth": 1.2},
              "encoding": {
                "x": {"datum": 0, "type": "quantitative", "axis": null},
                "x2": {"datum": 89.5},
                "y": {"datum": 0, "type": "quantitative", "axis": null}
              }
            },
            {
              "data": {"name": "mB"},
              "mark": {"type": "rule", "strokeWidth": 1.6},
              "encoding": {
                "x": {"datum": 0, "type": "quantitative",
                  "axis": {"orient": "top", "values": [0,5,10,15,20,25,30,35,40,45,50,55,60,65,70,75,80,85,90,95,100], "labels": false, "tickSize": {"condition": {"test": "datum.value % 20 === 0", "value": -10}, "value": -5}, "title": "Absorbed Flux", "titleFontSize": 22, "titleFontWeight": "normal", "titlePadding": 12}},
                "x2": {"datum": 89.5},
                "y": {"field": "m", "type": "quantitative", "scale": {"domain": [-7.5, 12.5], "nice": false, "zero": false},
                  "axis": {"orient": "right", "values": [-7,-6,-5,-4,-3,-2,-1,0,1,2,3,4,5,6,7,8,9,10,11,12], "labels": false, "tickSize": {"condition": {"test": "datum.value % 5 === 0", "value": -10}, "value": -5}, "title": null}},
                "color": {"field": "s", "type": "nominal", "legend": null}
              }
            }
          ]
        },
        {
          "layer": [
            {
              "data": {"name": "z"},
              "mark": {"type": "rect"},
              "encoding": {
                "x": {"datum": 95, "type": "quantitative", "axis": null},
                "x2": {"datum": 100},
                "y": {"field": "s", "type": "ordinal", "scale": {"domain": ["15","30","45","60","75"], "range": [368, 523], "paddingInner": 0, "paddingOuter": 0}, "axis": null},
                "color": {"field": "s", "type": "nominal", "legend": null}
              }
            },
            {
              "data": {"name": "z"},
              "mark": {"type": "text", "color": "white", "fontSize": 22, "font": "Liberation Serif"},
              "encoding": {
                "x": {"datum": 97.6, "type": "quantitative", "axis": null},
                "y": {"field": "s", "type": "ordinal", "axis": null},
                "text": {"field": "s"}
              }
            },
            {
              "data": {"name": "one"},
              "mark": {"type": "text", "angle": 270, "color": "#111", "fontSize": 21, "fontWeight": "bold", "font": "Liberation Serif"},
              "encoding": {
                "x": {"datum": 92.6, "type": "quantitative", "axis": null},
                "y": {"datum": "45", "type": "ordinal", "axis": null},
                "text": {"field": "label"}
              }
            }
          ]
        }
      ]
    }
  ],
  "config": {
    "font": "Liberation Serif",
    "view": {"stroke": "#333", "strokeWidth": 1.3},
    "axis": {"labelFont": "Liberation Serif", "titleFont": "Liberation Serif", "labelColor": "#111", "titleColor": "#111", "domainColor": "#333", "tickColor": "#333", "grid": false, "domainWidth": 1.3, "tickWidth": 1.1},
    "legend": {"labelFont": "Liberation Serif"},
    "title": {"font": "Liberation Serif", "color": "#111"},
    "text": {"font": "Liberation Serif"}
  }
}
